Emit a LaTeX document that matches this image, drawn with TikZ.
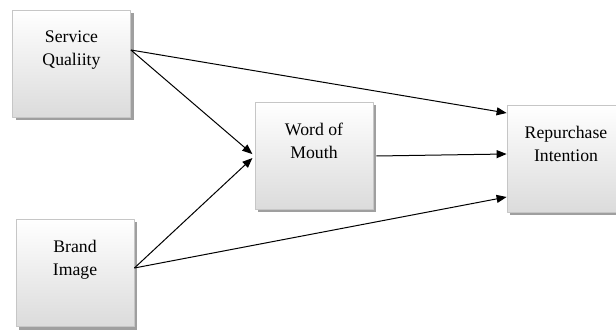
\documentclass[tikz,border=0pt]{standalone}
\usepackage{fontspec}
\setmainfont{Liberation Serif}
\usetikzlibrary{arrows.meta,shadows}
\tikzset{
	khoi/.style={rectangle, draw=gray!45, line width=0.8pt, top color=white, bottom color=gray!28,
		general shadow={fill=gray!75, shadow xshift=3pt, shadow yshift=-3pt},
		minimum width=118pt, minimum height=107pt, align=center, inner sep=0pt}
}
\begin{document}
\begin{tikzpicture}[x=1pt, y=-1pt, font=\fontsize{17.7}{23}\selectfont, line join=round, >={Triangle[length=10pt,width=8pt]}]
				\useasboundingbox (0,0) rectangle (616,331);
				\node[khoi] (sq) at (71.5,63.5) {Service\\Qualiity\\\strut};
				\node[khoi] (bi) at (75,273) {Brand\\Image\\\strut};
				\node[khoi] (wom) at (314,156) {Word of\\Mouth\\\strut};
				\node[khoi] (rep) at (566,158.5) {Repurchase\\Intention\\\strut};
				\coordinate (sqra) at ([yshift=13.5pt]sq.east);
				\coordinate (bira) at ([yshift=5pt]bi.east);
				\coordinate (repa) at ([yshift=45.5pt]rep.west);
				\coordinate (repb) at ([yshift=4.5pt]rep.west);
				\coordinate (repc) at ([yshift=-38.5pt]rep.west);
				\foreach \diem in {sqra,bira} \draw[->, line width=1pt, shorten >=3pt] (\diem)--(wom.west);
				\draw[->, line width=1pt] (sqra)--(repa);
				\draw[->, line width=1pt] (bira)--(repc);
				\draw[->, line width=1pt] ([xshift=3pt]wom.east)--(repb);
			\end{tikzpicture}
\end{document}
